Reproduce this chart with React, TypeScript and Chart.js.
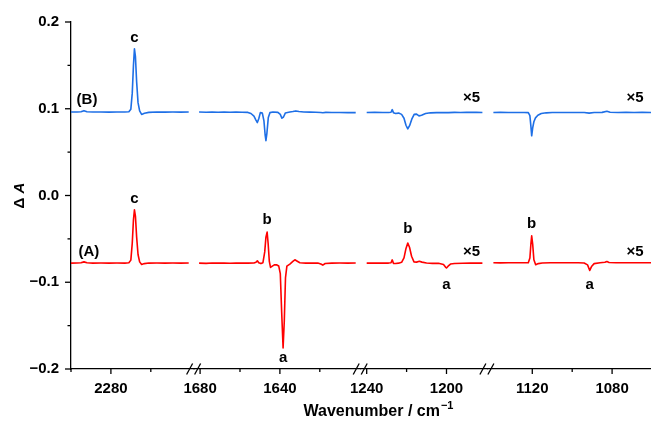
import React, { useEffect, useRef } from 'react';
import { Chart, registerables } from 'chart.js';

Chart.register(...registerables);

const FONT = '"Liberation Sans", Arial, sans-serif';
const BLUE = '#1e6fe6';
const RED = '#ff0000';

// ---------- Panel 1 : 2300–2240 cm-1 ----------
const p1Wn = [2300, 2297, 2295, 2293.5, 2292, 2289, 2285, 2281, 2277, 2273, 2271, 2270, 2269.3, 2268.7, 2268.2, 2267.7, 2267.1, 2266.4, 2265.6, 2264.6, 2263.2, 2261, 2257, 2253, 2249, 2245, 2241];
const p1B = [0.0962, 0.0963, 0.0965, 0.0978, 0.0966, 0.0962, 0.0963, 0.0961, 0.0962, 0.0962, 0.0966, 0.0995, 0.118, 0.15, 0.169, 0.16, 0.131, 0.107, 0.0975, 0.0935, 0.0948, 0.0958, 0.0962, 0.0961, 0.0962, 0.0961, 0.0962];
const p1A = [-0.0779, -0.0778, -0.0776, -0.0765, -0.0775, -0.0779, -0.0778, -0.0779, -0.0778, -0.0779, -0.0775, -0.0745, -0.055, -0.028, -0.0165, -0.024, -0.048, -0.068, -0.0765, -0.0795, -0.0785, -0.0779, -0.0778, -0.0779, -0.0778, -0.0779, -0.0778];

// ---------- Panel 2 : 1680–1600 cm-1 ----------
const p2WnB = [1680.5, 1677, 1674, 1671, 1668, 1665, 1662, 1659, 1656, 1654.5, 1653, 1652, 1651.3, 1650.6, 1649.8, 1648.8, 1648, 1647.4, 1647, 1646.5, 1645.8, 1645, 1643.5, 1641, 1639.8, 1639, 1638.2, 1637.3, 1635, 1633.5, 1632, 1630.5, 1628, 1625, 1622, 1619.5, 1618.5, 1617, 1614, 1610, 1606, 1602];
const p2B = [0.0962, 0.0959, 0.0963, 0.096, 0.0962, 0.096, 0.0962, 0.096, 0.0958, 0.0945, 0.0915, 0.087, 0.0841, 0.0885, 0.0955, 0.095, 0.086, 0.07, 0.0633, 0.072, 0.09, 0.0955, 0.0962, 0.0958, 0.0935, 0.0891, 0.0905, 0.095, 0.0962, 0.0968, 0.0975, 0.0968, 0.0963, 0.0961, 0.096, 0.0957, 0.0954, 0.0958, 0.0957, 0.0956, 0.0955, 0.0955];
const p2WnA = [1680.5, 1677, 1674, 1671, 1668, 1665, 1662, 1659, 1656, 1653, 1652, 1651.3, 1650.6, 1649.5, 1648.5, 1647.6, 1647, 1646.4, 1645.9, 1645.3, 1644.7, 1643.8, 1642.8, 1641.7, 1640.6, 1639.8, 1639.1, 1638.4, 1637.8, 1637.2, 1636.5, 1635, 1633.5, 1632.5, 1631.5, 1630, 1627, 1624, 1621, 1619.5, 1618.5, 1617.3, 1614, 1610, 1606, 1602];
const p2A = [-0.0779, -0.0782, -0.0778, -0.078, -0.0778, -0.0781, -0.0779, -0.078, -0.078, -0.0778, -0.077, -0.0752, -0.0775, -0.0785, -0.0775, -0.065, -0.048, -0.0422, -0.055, -0.076, -0.0829, -0.0815, -0.08, -0.0798, -0.0812, -0.09, -0.135, -0.1757, -0.145, -0.095, -0.0815, -0.079, -0.076, -0.0741, -0.0755, -0.0775, -0.0779, -0.078, -0.0779, -0.079, -0.0802, -0.0784, -0.0779, -0.0778, -0.0779, -0.0778];

// ---------- Panel 3 : 1240–1180 cm-1 (x5) ----------
const p3WnB = [1240, 1236, 1232, 1229, 1227.8, 1227.2, 1226.6, 1225.5, 1224, 1222.5, 1221.3, 1220.3, 1219.4, 1218.5, 1217.4, 1216.2, 1215, 1213.8, 1212.5, 1210.5, 1208, 1205, 1202, 1199, 1196, 1193, 1190, 1187, 1185, 1182];
const p3B = [0.0957, 0.0958, 0.0956, 0.0957, 0.096, 0.099, 0.0955, 0.0945, 0.095, 0.0935, 0.089, 0.081, 0.0768, 0.0805, 0.088, 0.0935, 0.0938, 0.0918, 0.0925, 0.0945, 0.0953, 0.0955, 0.0957, 0.0955, 0.0958, 0.0957, 0.096, 0.0958, 0.0959, 0.0957];
const p3WnA = [1240, 1236, 1232, 1229, 1227.8, 1227.2, 1226.6, 1225.5, 1224, 1222.5, 1221.3, 1220.3, 1219.4, 1218.5, 1217.5, 1216.3, 1215, 1213.6, 1212.3, 1210, 1207, 1204, 1201.5, 1200.5, 1200, 1199.2, 1198, 1196, 1192, 1188, 1185, 1182];
const p3A = [-0.0779, -0.078, -0.0778, -0.0779, -0.0776, -0.0742, -0.0782, -0.0783, -0.078, -0.077, -0.072, -0.061, -0.0548, -0.06, -0.07, -0.0765, -0.0768, -0.0758, -0.0768, -0.0778, -0.0782, -0.0782, -0.0795, -0.0825, -0.0836, -0.0815, -0.079, -0.0783, -0.0781, -0.0779, -0.078, -0.0779];

// ---------- Panel 4 : 1140–1060 cm-1 (x5) ----------
const p4WnB = [1139.5, 1136, 1132, 1128, 1124, 1122, 1121.2, 1120.7, 1120.3, 1119.8, 1119.2, 1118.4, 1117.2, 1115.5, 1113, 1110, 1106, 1102, 1098, 1094, 1091.5, 1089, 1085, 1082.6, 1081, 1077, 1073, 1069, 1065, 1060.5];
const p4B = [0.0957, 0.0958, 0.0956, 0.0957, 0.0957, 0.0955, 0.092, 0.08, 0.0688, 0.078, 0.085, 0.0895, 0.0925, 0.0945, 0.0953, 0.0956, 0.0957, 0.0956, 0.0957, 0.0956, 0.095, 0.0956, 0.0958, 0.0972, 0.0959, 0.0957, 0.0958, 0.0957, 0.0958, 0.0957];
const p4WnA = [1139.5, 1136, 1132, 1128, 1124, 1122, 1121.2, 1120.7, 1120.3, 1119.8, 1119.2, 1118.3, 1117, 1115, 1111, 1106, 1101, 1097, 1094, 1092.3, 1091.2, 1090.2, 1089, 1086, 1083.6, 1082.6, 1081.5, 1078, 1073, 1068, 1064, 1060.5];
const p4A = [-0.0775, -0.0777, -0.0775, -0.0776, -0.0775, -0.0774, -0.072, -0.056, -0.0464, -0.056, -0.074, -0.0798, -0.0785, -0.0778, -0.0776, -0.0775, -0.0776, -0.0775, -0.0778, -0.08, -0.0864, -0.0815, -0.0785, -0.0776, -0.077, -0.076, -0.0772, -0.0775, -0.0776, -0.0775, -0.0776, -0.0775];

// ---------- axes ----------
const xAxisIds = ['x1', 'x2', 'x3', 'x4'];
const panelMax = [2300, 1683, 1243, 1142.5];
const panelMin = [2238.3, 1599.5, 1179.5, 1060.5];
const xMajorTicks = [[2280], [1680, 1640], [1240, 1200], [1120, 1080]];
const xMinorTicks = [[2300, 2260], [1660, 1620], [1220], [1100, 1060]];
const yMajorTicks = [-0.2, -0.1, 0, 0.1, 0.2];
const yMinorTicks = [-0.15, -0.05, 0.05, 0.15];

// ---------- labels (text, axis, wavenumber, value) ----------
const labelTexts = ['(B)', '(A)', 'c', 'c', 'b', 'a', 'b', 'a', '×5', '×5', 'b', 'a', '×5', '×5'];
const labelAxes = ['x1', 'x1', 'x1', 'x1', 'x2', 'x2', 'x3', 'x3', 'x3', 'x3', 'x4', 'x4', 'x4', 'x4'];
const labelWn = [2292, 2291, 2268.2, 2268.2, 1646.4, 1638.4, 1219.4, 1200, 1187.5, 1187.5, 1120.3, 1091.2, 1068.5, 1068.5];
const labelVal = [0.11, -0.0648, 0.1816, -0.0038, -0.028, -0.1868, -0.0384, -0.1028, 0.1124, -0.0648, -0.0326, -0.1028, 0.1124, -0.0648];

const seriesB = [[p1Wn, p1B], [p2WnB, p2B], [p3WnB, p3B], [p4WnB, p4B]];
const seriesA = [[p1Wn, p1A], [p2WnA, p2A], [p3WnA, p3A], [p4WnA, p4A]];

const zip = (xs: number[], ys: number[]) => xs.map((x, i) => ({ x, y: ys[i] }));
const fmtY = (v: number) => (v < -1e-9 ? '\u2212' : '') + Math.abs(v).toFixed(1);

const decorPlugin = {
  id: 'decor',
  afterDraw(chart: any) {
    const ctx = chart.ctx as CanvasRenderingContext2D;
    const area = chart.chartArea;
    const line = (x1: number, y1: number, x2: number, y2: number) => {
      ctx.beginPath();
      ctx.moveTo(x1, y1);
      ctx.lineTo(x2, y2);
      ctx.stroke();
    };
    ctx.save();
    ctx.strokeStyle = '#000';
    ctx.lineWidth = 1.3;
    // y ticks
    const ys = chart.scales.y;
    ys.ticks.forEach((t: any) => {
      const py = ys.getPixelForValue(t.value);
      const len = t.minor ? 3.5 : 6;
      line(area.left - len, py, area.left, py);
    });
    // x ticks
    xAxisIds.forEach((id) => {
      const s = chart.scales[id];
      s.ticks.forEach((t: any) => {
        const px = s.getPixelForValue(t.value);
        const len = t.minor ? 3 : 5;
        line(px, area.bottom, px, area.bottom + len);
      });
    });
    // axis breaks
    for (let i = 1; i < xAxisIds.length; i++) {
      const bx = chart.scales[xAxisIds[i]].left;
      const by = area.bottom;
      [-4.5, 3.5].forEach((off) => {
        line(bx + off - 3, by + 5.5, bx + off + 3, by - 5.5);
      });
    }
    // annotations
    ctx.fillStyle = '#000';
    ctx.font = `bold 15px ${FONT}`;
    ctx.textAlign = 'center';
    ctx.textBaseline = 'middle';
    labelTexts.forEach((txt, i) => {
      const sx = chart.scales[labelAxes[i]];
      ctx.fillText(txt, sx.getPixelForValue(labelWn[i]), ys.getPixelForValue(labelVal[i]));
    });
    // y title "Δ A"
    ctx.save();
    ctx.translate(20, (area.top + area.bottom) / 2);
    ctx.rotate(-Math.PI / 2);
    ctx.textAlign = 'left';
    const f1 = `bold 15px ${FONT}`;
    const f2 = `italic bold 15px ${FONT}`;
    ctx.font = f1;
    const w1 = ctx.measureText('\u0394 ').width;
    ctx.font = f2;
    const w2 = ctx.measureText('A').width;
    const start = -(w1 + w2) / 2;
    ctx.font = f1;
    ctx.fillText('\u0394 ', start, 0);
    ctx.font = f2;
    ctx.fillText('A', start + w1, 0);
    ctx.restore();
    // x title
    const main = 'Wavenumber / cm';
    const sup = '\u22121';
    ctx.font = `bold 16px ${FONT}`;
    const mw = ctx.measureText(main).width;
    ctx.font = `bold 11px ${FONT}`;
    const sw = ctx.measureText(sup).width;
    const cx = 378;
    const ty = 412;
    const sx0 = cx - (mw + sw) / 2;
    ctx.textAlign = 'left';
    ctx.font = `bold 16px ${FONT}`;
    ctx.fillText(main, sx0, ty);
    ctx.font = `bold 11px ${FONT}`;
    ctx.fillText(sup, sx0 + mw + 1, ty - 6);
    ctx.restore();
  },
};

export default function App() {
  const ref = useRef<HTMLCanvasElement>(null);
  useEffect(() => {
    if (!ref.current) return;
    const datasets: any[] = [];
    xAxisIds.forEach((id, i) => {
      datasets.push({
        data: zip(seriesB[i][0], seriesB[i][1]),
        xAxisID: id,
        yAxisID: 'y',
        borderColor: BLUE,
        borderWidth: 1.6,
        pointRadius: 0,
        tension: 0,
        fill: false,
        borderJoinStyle: 'round',
      });
      datasets.push({
        data: zip(seriesA[i][0], seriesA[i][1]),
        xAxisID: id,
        yAxisID: 'y',
        borderColor: RED,
        borderWidth: 1.6,
        pointRadius: 0,
        tension: 0,
        fill: false,
        borderJoinStyle: 'round',
      });
    });
    const scales: any = {
      y: {
        type: 'linear',
        position: 'left',
        min: -0.2,
        max: 0.2,
        afterBuildTicks: (s: any) => {
          s.ticks = [
            ...yMajorTicks.map((v) => ({ value: v })),
            ...yMinorTicks.map((v) => ({ value: v, minor: true })),
          ].sort((a, b) => a.value - b.value);
        },
        afterFit: (s: any) => {
          s.width = 71;
        },
        ticks: {
          color: '#000',
          font: { family: FONT, size: 15, weight: 'bold' },
          padding: 6,
          autoSkip: false,
          callback: (v: number, i: number, ticks: any[]) => (ticks[i] && ticks[i].minor ? '' : fmtY(v)),
        },
        grid: { display: false, drawTicks: true, tickLength: 6 },
        border: { display: true, color: '#000', width: 1.3 },
      },
    };
    xAxisIds.forEach((id, i) => {
      scales[id] = {
        type: 'linear',
        position: 'bottom',
        stack: 'wn',
        stackWeight: panelMax[i] - panelMin[i],
        reverse: true,
        min: panelMin[i],
        max: panelMax[i],
        afterBuildTicks: (s: any) => {
          s.ticks = [
            ...xMajorTicks[i].map((v) => ({ value: v })),
            ...xMinorTicks[i].filter((v) => v >= panelMin[i] && v <= panelMax[i]).map((v) => ({ value: v, minor: true })),
          ].sort((a, b) => a.value - b.value);
        },
        afterFit: (s: any) => {
          s.height = 56;
          s.paddingLeft = 0;
          s.paddingRight = 0;
        },
        ticks: {
          color: '#000',
          font: { family: FONT, size: 15, weight: 'bold' },
          padding: 6,
          autoSkip: false,
          maxRotation: 0,
          minRotation: 0,
          callback: (v: number, j: number, ticks: any[]) => (ticks[j] && ticks[j].minor ? '' : String(v)),
        },
        grid: { display: false, drawTicks: true, tickLength: 5 },
        border: { display: true, color: '#000', width: 1.3 },
      };
    });
    const chart = new Chart(ref.current, {
      type: 'line',
      data: { datasets },
      options: {
        responsive: false,
        animation: false,
        devicePixelRatio: 1,
        layout: { padding: { top: 22, left: 0, right: 0, bottom: 0 } },
        plugins: { legend: { display: false }, tooltip: { enabled: false } },
        scales,
      },
      plugins: [decorPlugin],
    } as any);
    return () => chart.destroy();
  }, []);
  return (
    <div style={{ position: 'absolute', left: 0, top: 0, width: 651, height: 425, background: '#fff' }}>
      <canvas ref={ref} width={651} height={425} style={{ display: 'block' }} />
    </div>
  );
}
